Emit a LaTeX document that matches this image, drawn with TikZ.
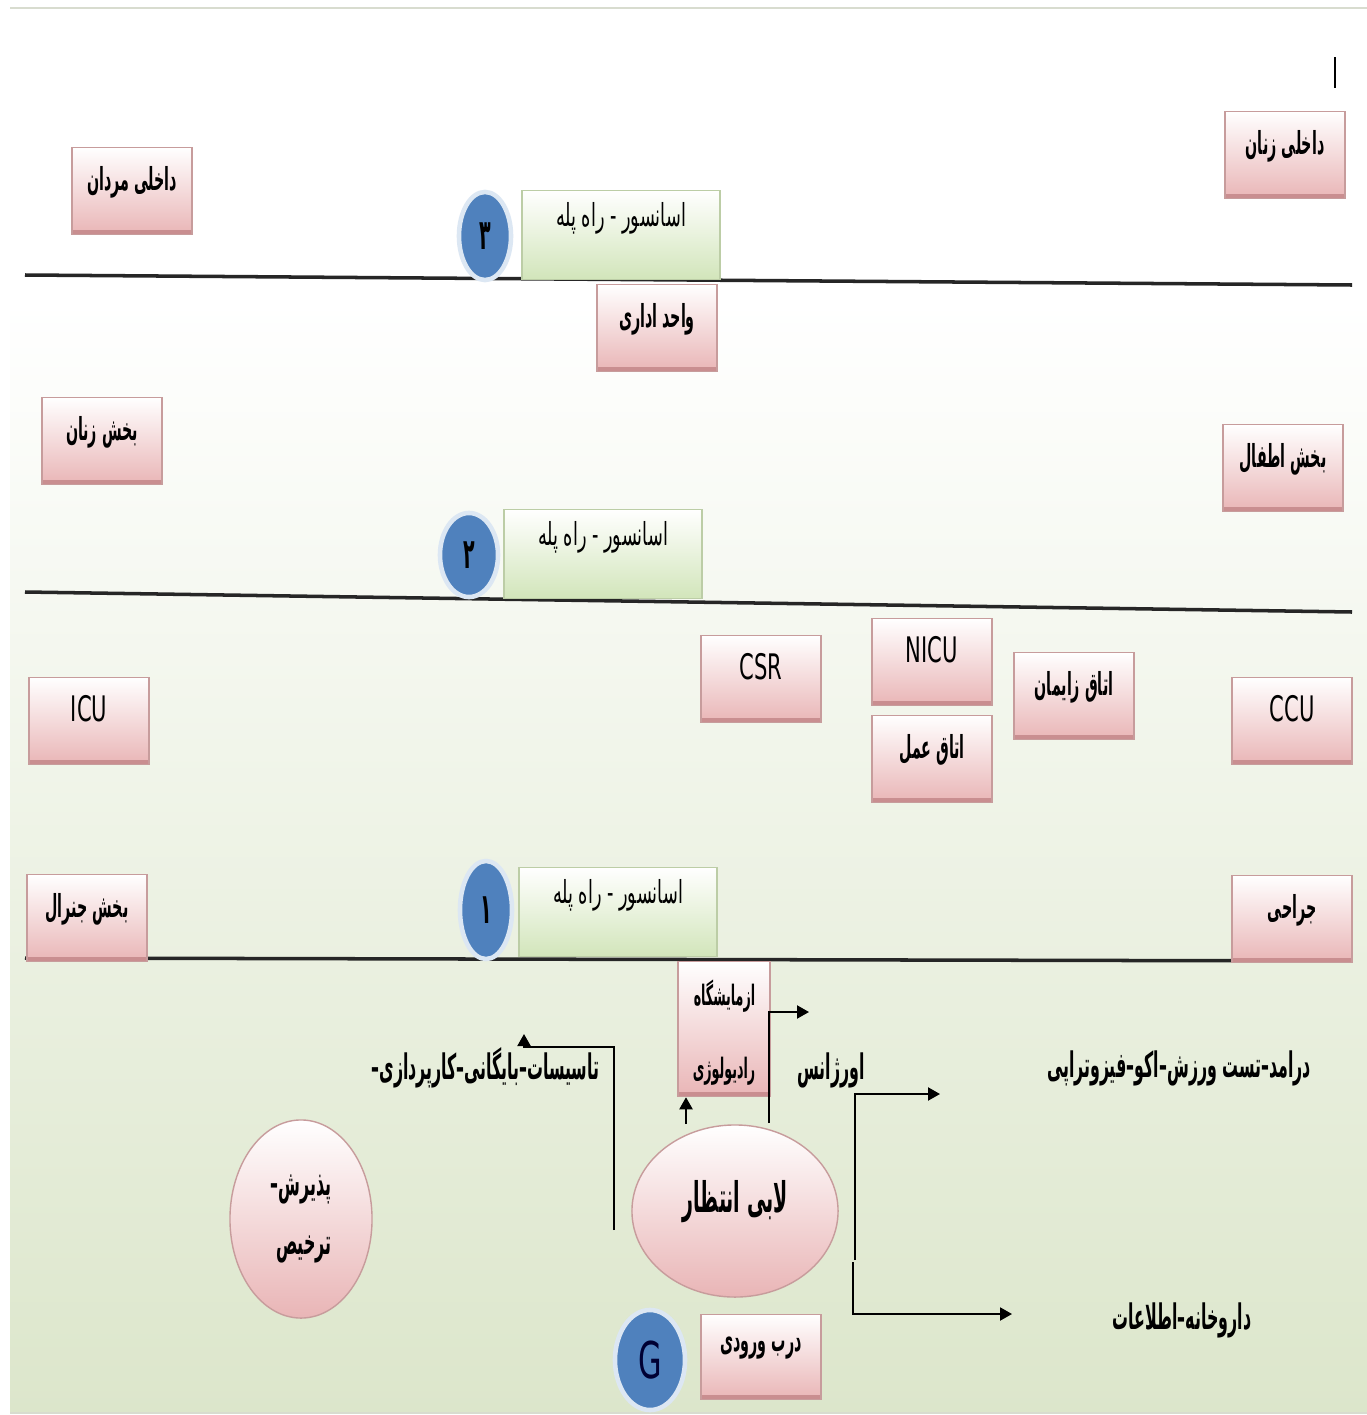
\documentclass[tikz,border=0pt]{standalone}
\usepackage{fontspec}
\usetikzlibrary{shapes.geometric}
\usetikzlibrary{arrows.meta}
\TeXXeTstate=1
\newfontfamily\farsi[Script=Arabic,FakeStretch=0.45]{DejaVu Sans}
\newfontfamily\farsiwide[Script=Arabic,FakeStretch=0.56]{DejaVu Sans}
\newfontfamily\latin[FakeStretch=0.6]{DejaVu Sans}
\newcommand{\fa}[1]{\beginR #1\endR}

\definecolor{roompink}{HTML}{E9B5B6}
\definecolor{roomedge}{HTML}{C79C9C}
\definecolor{roomstrip}{HTML}{C98E90}
\definecolor{liftgreen}{HTML}{D2E5BA}
\definecolor{liftedge}{HTML}{BCCDA6}
\definecolor{dotblue}{HTML}{4F81BD}
\definecolor{dotring}{HTML}{DCE7F3}
\definecolor{bgmid}{HTML}{ECF2E3}
\definecolor{bggreen}{HTML}{DCE6CB}
\definecolor{framegrey}{HTML}{D8DCCF}

\tikzset{
  roombox/.style={rectangle, draw=roomedge, top color=white, bottom color=roompink,
    minimum width=1.2cm, minimum height=0.87cm, inner sep=1pt,
    font=\farsi\bfseries\small, text depth=0.25cm,
    path picture={\fill[roomstrip] (path picture bounding box.south west)
      rectangle ([yshift=0.05cm]path picture bounding box.south east);}},
  liftbox/.style={rectangle, draw=liftedge, top color=white, bottom color=liftgreen,
    minimum width=1.98cm, minimum height=0.86cm, font=\farsiwide\small, text depth=0.42cm},
  liftdot/.style={ellipse, fill=dotblue, draw=dotring, line width=1.3pt,
    minimum width=0.52cm, minimum height=0.84cm, inner sep=0pt, font=\farsi\bfseries\large},
  halloval/.style={ellipse, draw=roomedge, top color=white, bottom color=roompink,
    inner sep=0pt, font=\farsi\bfseries\normalsize},
  plain/.style={font=\farsi\bfseries\normalsize, inner sep=0pt},
  floorline/.style={line width=1pt, black!85},
  arr/.style={line width=0.6pt, -{Triangle[length=1.2mm,width=1.3mm]}}
}

\begin{document}
\begin{tikzpicture}[x=0.01cm,y=-0.01cm]
\useasboundingbox (0,0) rectangle (1367,1415);
% background
\fill[white] (10,10) rectangle (1367,300);
\shade[top color=white, middle color=bgmid, bottom color=bggreen] (10,300) rectangle (1367,1413);
\draw[framegrey, line width=0.8pt] (10,8) -- (1367,8);
\draw[framegrey, line width=0.8pt] (10,1413) -- (1367,1413);
\draw[line width=0.6pt] (1335,57) -- (1335,88);
%
% floors
\draw[floorline] (25,275) -- (1352,285);
\draw[floorline] (25,592) -- (1352,612);
\draw[floorline] (25,958) -- (1352,961);
%
% third floor
\node[roombox] (maleInt) at (132,191) {\fa{داخلی مردان}};
\node[roombox] (femaleInt) at (1285,155) {\fa{داخلی زنان}};
\node[liftbox] (lift3) at (621,235) {\fa{اسانسور -  راه پله}};
\node[liftdot, minimum height=0.88cm] (dot3) at (485,236) {\fa{۳}};
%
% second floor
\node[roombox] (admin) at (657,328) {\fa{واحد اداری}};
\node[roombox] (femaleWard) at (102,441) {\fa{بخش زنان}};
\node[roombox] (childWard) at (1283,468) {\fa{بخش اطفال}};
\node[liftbox] (lift2) at (603,554) {\fa{اسانسور -  راه پله}};
\node[liftdot, minimum width=0.58cm] (dot2) at (469,555) {\fa{۲}};
%
% first floor
\node[roombox, font=\latin\normalsize] (csr) at (761,679) {CSR};
\node[roombox, font=\latin\normalsize] (nicu) at (932,662) {NICU};
\node[roombox] (labour) at (1074,696) {\fa{اتاق زایمان}};
\node[roombox] (theatre) at (932,759) {\fa{اتاق عمل}};
\node[roombox, font=\latin\normalsize] (icu) at (89,721) {ICU};
\node[roombox, font=\latin\normalsize] (ccu) at (1292,721) {CCU};
\node[roombox] (general) at (87,918) {\fa{بخش جنرال}};
\node[roombox] (surgery) at (1292,919) {\fa{جراحی}};
\node[liftbox] (lift1) at (618,912) {\fa{اسانسور -  راه پله}};
\node[liftdot, minimum height=0.98cm] (dot1) at (486,910) {\fa{۱}};
%
% ground floor
\node[roombox, minimum width=0.92cm, minimum height=1.35cm, text depth=0pt,
  align=right, font=\farsi\bfseries\footnotesize] (lab) at (724,1029)
  {\fa{ازمایشگاه}\\[0.4cm]\fa{رادیولوژی}};
\node[halloval, minimum width=2.06cm, minimum height=1.72cm, font=\farsi\bfseries\large,
  text depth=0.3cm] (lobby) at (735,1211) {\fa{لابی انتظار}};
\node[halloval, minimum width=1.42cm, minimum height=1.98cm, align=right]
  (admit) at (301,1219) {\fa{پذیرش–}\\[0.16cm]\fa{ترخیص}};
\node[liftdot, minimum width=0.7cm, minimum height=1.0cm, font=\latin\Large, text=black!80!blue]
  (dotG) at (650,1360) {G};
\node[roombox, minimum height=0.85cm] (entrance) at (761,1357) {\fa{درب ورودی}};
%
\node[plain, anchor=east] (services) at (600,1068) {\fa{تاسیسات–بایگانی–کارپردازی–}};
\node[plain] (emergency) at (831,1070) {\fa{اورژانس}};
\node[plain] (clinics) at (1179,1068) {\fa{درامد–تست ورزش–اکو–فیزوتراپی}};
\node[plain] (pharmacy) at (1182,1320) {\fa{داروخانه–اطلاعات}};
%
% connectors
\coordinate (labFoot) at (686,1124);
\draw[arr] (labFoot) -- (labFoot |- lab.south);
\coordinate (emFoot) at (769,1123);
\coordinate (emTip) at (809,1012);
\draw[arr] (emFoot) |- (emTip);
\coordinate (servFoot) at (614,1230);
\coordinate (servBend) at (524,1047);
\coordinate (servTip) at (524,1034);
\draw[arr] (servFoot) |- (servBend) -- (servTip);
\coordinate (clinFoot) at (855,1260);
\coordinate (clinTip) at (940,1094);
\draw[arr] (clinFoot) |- (clinTip);
\coordinate (pharmFoot) at (853,1262);
\coordinate (pharmTip) at (1012,1314);
\draw[arr] (pharmFoot) |- (pharmTip);
\end{tikzpicture}
\end{document}
